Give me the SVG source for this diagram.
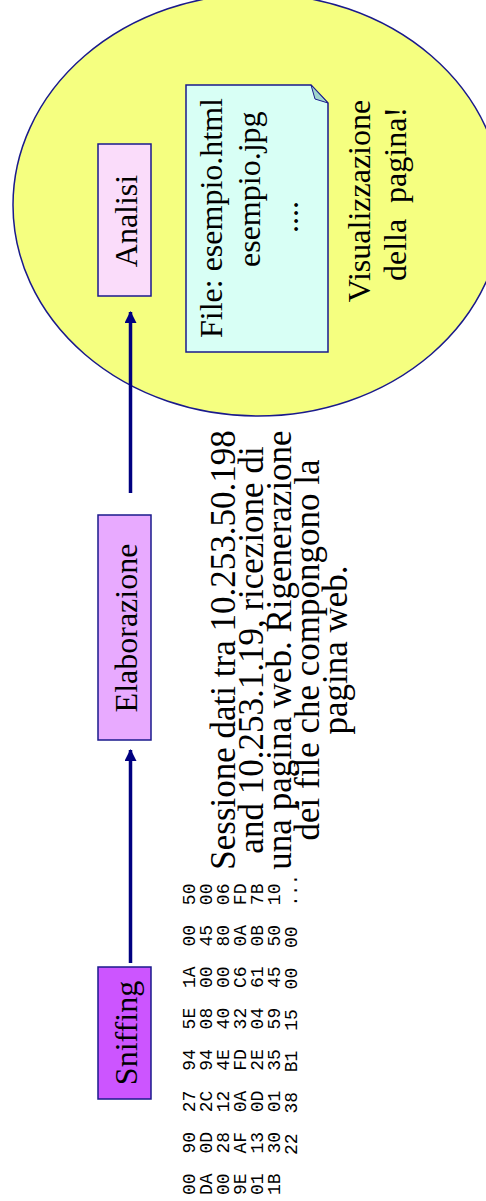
<svg xmlns="http://www.w3.org/2000/svg" width="486" height="1201" viewBox="0 0 486 1201">
<style>
.box{stroke:#1a1a8c;stroke-width:1.5}
.t{font-family:'Liberation Serif','Times New Roman','DejaVu Serif',serif;font-size:32px;fill:#000}
.b{font-family:'Liberation Serif','Times New Roman','DejaVu Serif',serif;font-size:35px;fill:#000;text-anchor:middle}
.hex{font-family:'Liberation Mono','Courier New','DejaVu Sans Mono',monospace;font-size:18px;fill:#000;word-spacing:9px}
.conn{stroke:#000080;stroke-width:3.5;fill:none}
</style>
<defs>
<marker id="ah" viewBox="0 0 12 12" refX="11" refY="6" markerWidth="12" markerHeight="12" markerUnits="userSpaceOnUse" orient="auto">
<path d="M0,0 L12,6 L0,12 Z" fill="#000080"/>
</marker>
</defs>
<g id="page">
<ellipse cx="258" cy="205" rx="245" ry="211" fill="#f5ff80" stroke="#1a1a8c" stroke-width="1.5"/>
</g>
<g id="connectors">
<line class="conn" x1="130.5" y1="963" x2="130.5" y2="750" marker-end="url(#ah)"/>
<line class="conn" x1="130.5" y1="493" x2="130.5" y2="312" marker-end="url(#ah)"/>
</g>
<g id="sniffing">
<rect class="box" x="98" y="967" width="53" height="132" fill="#cc55ff"/>
<text class="t" text-anchor="middle" transform="translate(136.5,1033) rotate(-90)">Sniffing</text>
</g>
<g id="elaborazione">
<rect class="box" x="98" y="515" width="53" height="225" fill="#e8aaff"/>
<text class="t" text-anchor="middle" transform="translate(136.5,628) rotate(-90)">Elaborazione</text>
</g>
<g id="analisi">
<rect class="box" x="98" y="144" width="53" height="152" fill="#fadcfa"/>
<text class="t" text-anchor="middle" transform="translate(136.5,221) rotate(-90)">Analisi</text>
</g>
<g id="file">
<path class="box" d="M186,85 L311,85 L328,103 L328,352 L186,352 Z" fill="#d8fff5"/>
<path d="M311,85 L315,99 L328,103 Z" fill="#9fd6cc" stroke="#1a1a8c" stroke-width="1"/>
<text class="t" transform="translate(222,338) rotate(-90)">File: esempio.html</text>
<text class="t" transform="translate(260,267) rotate(-90)">esempio.jpg</text>
<text class="t" text-anchor="middle" transform="translate(298,217) rotate(-90)">....</text>
</g>
<g id="visualizzazione">
<text class="t" text-anchor="middle" transform="translate(370,201) rotate(-90)">Visualizzazione</text>
<text class="t" text-anchor="middle" transform="translate(406,194) rotate(-90)" style="white-space:pre">della  pagina!</text>
</g>
<g id="descrizione">
<text class="b" transform="translate(235,650) rotate(-90)">Sessione dati tra 10.253.50.198</text>
<text class="b" transform="translate(263,650) rotate(-90)">and 10.253.1.19, ricezione di</text>
<text class="b" transform="translate(291,650) rotate(-90)">una pagina web. Rigenerazione</text>
<text class="b" transform="translate(319,650) rotate(-90)">dei file che compongono la</text>
<text class="b" transform="translate(347,650) rotate(-90)">pagina web.</text>
</g>
<g id="hex">
<text class="hex" transform="translate(195,1195) rotate(-90)">00 90 27 94 5E 1A 00 50</text>
<text class="hex" transform="translate(212,1195) rotate(-90)">DA 0D 2C 94 08 00 45 00</text>
<text class="hex" transform="translate(229,1195) rotate(-90)">00 28 12 4E 40 00 80 06</text>
<text class="hex" transform="translate(246,1195) rotate(-90)">9E AF 0A FD 32 C6 0A FD</text>
<text class="hex" transform="translate(263,1195) rotate(-90)">01 13 0D 2E 04 61 0B 7B</text>
<text class="hex" transform="translate(280,1195) rotate(-90)">1B 30 01 35 59 45 50 10</text>
<text class="hex" transform="translate(297,1155) rotate(-90)">22 38 B1 15 00 00 ...</text>
</g>
</svg>
